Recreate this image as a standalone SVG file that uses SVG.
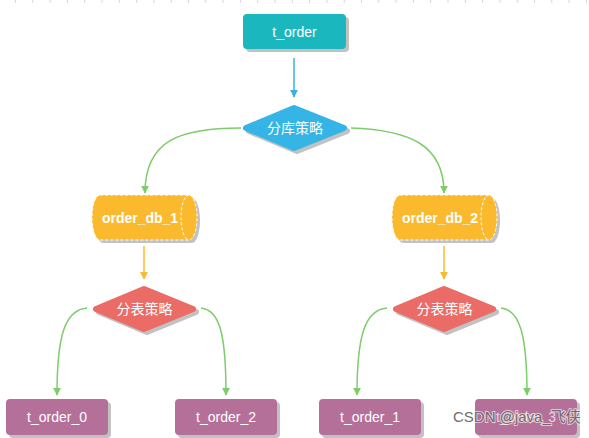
<svg xmlns="http://www.w3.org/2000/svg" width="589" height="438" viewBox="0 0 589 438">
<style>
.lbl{font-family:"Liberation Sans","Noto Sans CJK SC",sans-serif;font-size:14px;fill:#fff;text-anchor:middle;dominant-baseline:central}
.b{font-weight:bold}
.sh{fill:#9a9a9a;opacity:0.6}
.gr{fill:none;stroke:#7fcc6c;stroke-width:1.5}
</style>
<defs>
<marker id="ag" viewBox="0 0 10 10" refX="9" refY="5" markerWidth="8" markerHeight="8" orient="auto" markerUnits="userSpaceOnUse"><path d="M0,0 L10,5 L0,10 z" fill="#7fcc6c"/></marker>
<marker id="ab" viewBox="0 0 10 10" refX="9" refY="5" markerWidth="8" markerHeight="8" orient="auto" markerUnits="userSpaceOnUse"><path d="M0,0 L10,5 L0,10 z" fill="#3bb0e0"/></marker>
<marker id="ao" viewBox="0 0 10 10" refX="9" refY="5" markerWidth="8" markerHeight="8" orient="auto" markerUnits="userSpaceOnUse"><path d="M0,0 L10,5 L0,10 z" fill="#fbba2e"/></marker>
</defs>
<rect width="589" height="438" fill="#fff"/>
<line x1="0" y1="1.5" x2="589" y2="1.5" stroke="#d8d8d8" stroke-width="3" stroke-dasharray="1 16.3" stroke-dashoffset="-15"/>
<g id="connectors">
<line x1="294" y1="58" x2="294" y2="97" stroke="#3bb0e0" stroke-width="1.5" marker-end="url(#ab)"/>
<path class="gr" d="M241,128 C180,128 145,140 145,193" marker-end="url(#ag)"/>
<path class="gr" d="M351,128 C410,130 444,145 444,193" marker-end="url(#ag)"/>
<line x1="144" y1="246" x2="144" y2="279" stroke="#fbba2e" stroke-width="1.5" marker-end="url(#ao)"/>
<line x1="444" y1="246" x2="444" y2="279" stroke="#fbba2e" stroke-width="1.5" marker-end="url(#ao)"/>
<path class="gr" d="M87,308 C65,310 57,335 57,395" marker-end="url(#ag)"/>
<path class="gr" d="M201,308 C220,310 226,335 226,395" marker-end="url(#ag)"/>
<path class="gr" d="M387,308 C365,310 357,335 357,395" marker-end="url(#ag)"/>
<path class="gr" d="M501,308 C520,310 527,335 527,395" marker-end="url(#ag)"/>
</g>
<g id="t_order">
<rect class="sh" x="246" y="17" width="103" height="35" rx="4"/>
<rect x="243" y="14" width="103" height="35" rx="4" fill="#1ab8be"/>
<text class="lbl" x="294.5" y="31.5">t_order</text>
</g>
<g id="db_strategy">
<polygon class="sh" points="297,111 347,131 297,151 249,131" stroke="#9a9a9a" stroke-width="6" stroke-linejoin="round"/>
<polygon points="294,108 344,128 294,148 246,128" fill="#35b5e5" stroke="#35b5e5" stroke-width="6" stroke-linejoin="round"/>
<text class="lbl" x="295" y="128">分库策略</text>
</g>
<g id="order_db_1">
<path class="sh" d="M103,198 H192 A8,22.5 0 0 1 192,243 H103 A8,22.5 0 0 1 103,198 z"/>
<path d="M100,195 H189 A8,22.5 0 0 1 189,240 H100 A8,22.5 0 0 1 100,195 z" fill="#fbba2e" stroke="#fff" stroke-width="1" stroke-dasharray="3 2"/>
<path d="M189,195 A8,22.5 0 0 0 189,240" fill="none" stroke="#fff" stroke-width="1" stroke-dasharray="3 2"/>
<text class="lbl b" x="140" y="218">order_db_1</text>
</g>
<g id="order_db_2">
<path class="sh" d="M403,198 H492 A8,22.5 0 0 1 492,243 H403 A8,22.5 0 0 1 403,198 z"/>
<path d="M400,195 H489 A8,22.5 0 0 1 489,240 H400 A8,22.5 0 0 1 400,195 z" fill="#fbba2e" stroke="#fff" stroke-width="1" stroke-dasharray="3 2"/>
<path d="M489,195 A8,22.5 0 0 0 489,240" fill="none" stroke="#fff" stroke-width="1" stroke-dasharray="3 2"/>
<text class="lbl b" x="440" y="218">order_db_2</text>
</g>
<g id="tb_strategy_1">
<polygon class="sh" points="147,292 196,312 147,332 99,312" stroke="#9a9a9a" stroke-width="6" stroke-linejoin="round"/>
<polygon points="144,289 193,309 144,329 96,309" fill="#eb6b67" stroke="#eb6b67" stroke-width="6" stroke-linejoin="round"/>
<text class="lbl" x="144.5" y="309">分表策略</text>
</g>
<g id="tb_strategy_2">
<polygon class="sh" points="447,292 496,312 447,332 399,312" stroke="#9a9a9a" stroke-width="6" stroke-linejoin="round"/>
<polygon points="444,289 493,309 444,329 396,309" fill="#eb6b67" stroke="#eb6b67" stroke-width="6" stroke-linejoin="round"/>
<text class="lbl" x="444.5" y="309">分表策略</text>
</g>
<g id="t_order_0">
<rect class="sh" x="9" y="402" width="102" height="36" rx="4"/>
<rect x="6" y="399" width="102" height="36" rx="4" fill="#b5709a"/>
<text class="lbl" x="57" y="417">t_order_0</text>
</g>
<g id="t_order_2">
<rect class="sh" x="178" y="402" width="102" height="36" rx="4"/>
<rect x="175" y="399" width="102" height="36" rx="4" fill="#b5709a"/>
<text class="lbl" x="226" y="417">t_order_2</text>
</g>
<g id="t_order_1">
<rect class="sh" x="322" y="402" width="102" height="36" rx="4"/>
<rect x="319" y="399" width="102" height="36" rx="4" fill="#b5709a"/>
<text class="lbl" x="370" y="417">t_order_1</text>
</g>
<g id="t_order_3">
<rect class="sh" x="478" y="402" width="102" height="36" rx="4"/>
<rect x="475" y="399" width="102" height="36" rx="4" fill="#b5709a"/>
<text class="lbl" x="526" y="417" fill-opacity="0.7">t_order_3</text>
</g>
<text x="453" y="422" font-family="Liberation Sans,'Noto Sans CJK SC',sans-serif" font-size="15" fill="#6e6e6e" stroke="#ffffff" stroke-width="2" stroke-opacity="0.6" paint-order="stroke">CSDN @java_飞侠</text>
</svg>
